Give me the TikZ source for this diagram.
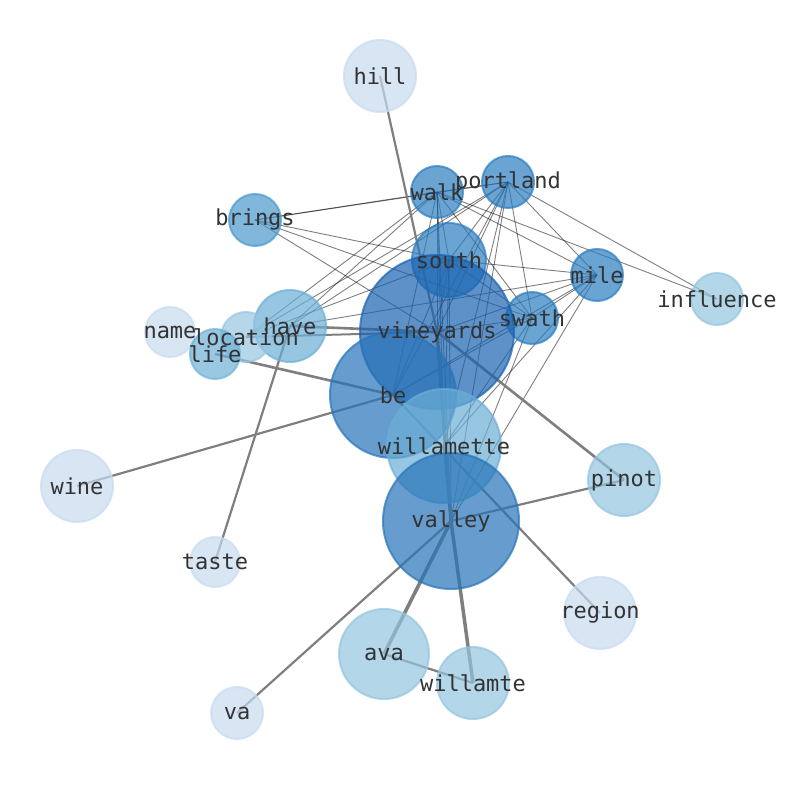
\documentclass[tikz,border=0pt]{standalone}
\usepackage{fontspec}
\newfontfamily\lblfont{DejaVu Sans Mono}
\definecolor{cA}{HTML}{1A62B0}
\definecolor{cB}{HTML}{2774B9}
\definecolor{cC}{HTML}{2B7DC0}
\definecolor{cD}{HTML}{4A98CC}
\definecolor{cE}{HTML}{6BAED6}
\definecolor{cF}{HTML}{6FB1D6}
\definecolor{cG}{HTML}{93C5DE}
\definecolor{cH}{HTML}{97C6E1}
\definecolor{cI}{HTML}{C7DBEF}
\definecolor{txt}{HTML}{333333}
\definecolor{edg}{HTML}{7F7F7F}
\tikzset{
  nd/.style 2 args={circle, inner sep=0pt, minimum size=#1, fill=#2, draw=#2, line width=2pt, fill opacity=0.7, draw opacity=0.7},
  lbl/.style={text=txt, font=\lblfont\fontsize{22}{22}\selectfont, inner sep=0pt},
  thin/.style={draw=black, draw opacity=0.5, line width=0.9pt},
  thick/.style={draw=edg, line width=#1},
  thick/.default=2.2pt
}
\begin{document}
\begin{tikzpicture}[x=1pt,y=1pt]
\useasboundingbox (0,0) rectangle (794,790);
% coordinates (y = 790 - pixel y)
\coordinate (p-hill) at (380,714);
\coordinate (p-portland) at (508,608);
\coordinate (p-walk) at (437,598);
\coordinate (p-brings) at (255,570);
\coordinate (p-south) at (449,530);
\coordinate (p-mile) at (597,515);
\coordinate (p-influence) at (717,491);
\coordinate (p-swath) at (532,472);
\coordinate (p-vineyards) at (437,458);
\coordinate (p-have) at (290,464);
\coordinate (p-location) at (246,453);
\coordinate (p-name) at (170,458);
\coordinate (p-life) at (215,436);
\coordinate (p-be) at (393,395);
\coordinate (p-willamette) at (444,344);
\coordinate (p-wine) at (77,304);
\coordinate (p-pinot) at (624,310);
\coordinate (p-valley) at (451,269);
\coordinate (p-taste) at (215,228);
\coordinate (p-region) at (600,177);
\coordinate (p-ava) at (384,136);
\coordinate (p-willamte) at (473,107);
\coordinate (p-va) at (237,77);

% thin edges
\foreach \a/\b in {brings/walk, brings/portland, brings/south, brings/swath, brings/vineyards,
  walk/portland, walk/south, walk/vineyards, walk/be, walk/willamette, walk/valley, walk/mile, walk/swath, walk/influence, walk/have, walk/location,
  portland/south, portland/vineyards, portland/be, portland/willamette, portland/valley, portland/mile, portland/swath, portland/influence, portland/have, portland/location,
  south/mile, south/swath, south/vineyards, south/be, south/willamette, south/valley, south/location,
  mile/swath, mile/vineyards, mile/be, mile/willamette, mile/valley, mile/have,
  swath/vineyards, swath/be, swath/willamette, swath/valley}
  \draw[thin] (p-\a) -- (p-\b);

% thick edges
\draw[thick] (p-hill) -- (p-vineyards);
\draw[thick=2.6pt] (p-vineyards) -- (p-pinot);
\draw[thick=2.6pt] (p-have) -- (p-vineyards);
\draw[thick=2pt] (p-location) -- (p-vineyards);
\draw[thick=3.5pt] (p-vineyards) -- (p-valley);
\draw[thick=3.5pt] (p-valley) -- (p-willamte);
\draw[thick=2.5pt] (p-willamette) -- (p-valley);
\draw[thick=2.6pt] (p-life) -- (p-be);
\draw[thick] (p-wine) -- (p-be);
\draw[thick] (p-be) -- (p-region);
\draw[thick] (p-taste) -- (p-have);
\draw[thick] (p-valley) -- (p-pinot);
\draw[thick=3.6pt] (p-valley) -- (p-ava);
\draw[thick] (p-valley) -- (p-va);
\draw[thick] (p-ava) -- (p-willamte);

% nodes
\node[nd={72pt}{cI}] (n-hill) at (p-hill) {};
\node[nd={52pt}{cC}] (n-portland) at (p-portland) {};
\node[nd={52pt}{cC}] (n-walk) at (p-walk) {};
\node[nd={52pt}{cD}] (n-brings) at (p-brings) {};
\node[nd={74pt}{cC}] (n-south) at (p-south) {};
\node[nd={52pt}{cC}] (n-mile) at (p-mile) {};
\node[nd={52pt}{cG}] (n-influence) at (p-influence) {};
\node[nd={52pt}{cC}] (n-swath) at (p-swath) {};
\node[nd={154pt}{cA}] (n-vineyards) at (p-vineyards) {};
\node[nd={72pt}{cE}] (n-have) at (p-have) {};
\node[nd={50pt}{cH}] (n-location) at (p-location) {};
\node[nd={50pt}{cI}] (n-name) at (p-name) {};
\node[nd={50pt}{cF}] (n-life) at (p-life) {};
\node[nd={126pt}{cB}] (n-be) at (p-be) {};
\node[nd={114pt}{cE}] (n-willamette) at (p-willamette) {};
\node[nd={72pt}{cI}] (n-wine) at (p-wine) {};
\node[nd={72pt}{cG}] (n-pinot) at (p-pinot) {};
\node[nd={136pt}{cB}] (n-valley) at (p-valley) {};
\node[nd={50pt}{cI}] (n-taste) at (p-taste) {};
\node[nd={72pt}{cI}] (n-region) at (p-region) {};
\node[nd={90pt}{cG}] (n-ava) at (p-ava) {};
\node[nd={72pt}{cG}] (n-willamte) at (p-willamte) {};
\node[nd={52pt}{cI}] (n-va) at (p-va) {};

% labels
\foreach \n in {hill, portland, walk, brings, south, mile, influence, swath, vineyards, have, location, name, life, be, willamette, wine, pinot, valley, taste, region, ava, willamte, va}
  \node[lbl] (t-\n) at (n-\n.center) {\n};
\end{tikzpicture}
\end{document}
